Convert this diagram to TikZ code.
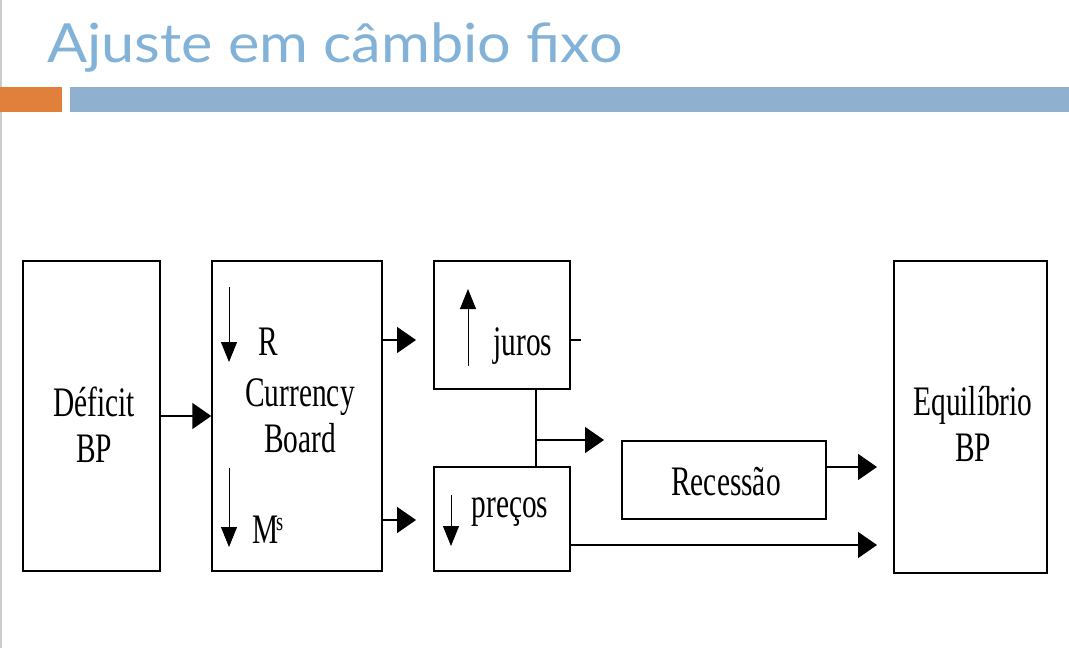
\documentclass[tikz,border=0pt]{standalone}
\usepackage{fontspec}
\setmainfont{Liberation Serif}
\newfontfamily\boxfont[FakeStretch=0.7]{Liberation Serif}
\newfontfamily\titlefont[FakeStretch=1.1]{Lato}
\usetikzlibrary{arrows.meta}
\definecolor{titleblue}{RGB}{130,178,216}
\definecolor{barblue}{RGB}{143,177,207}
\definecolor{barorange}{RGB}{224,128,58}
\tikzset{
  box/.style={draw, line width=1.4pt, minimum width=#1, inner sep=0pt},
  lbl/.style={font=\boxfont\fontsize{42}{46}\selectfont, inner sep=0pt, align=center},
  flow/.style={line width=1.6pt, -{Triangle[length=19pt,width=26pt]}},
  thin arrow/.style={line width=0.9pt, -{Triangle[length=20pt,width=16pt]}}
}
\begin{document}
\begin{tikzpicture}[x=1pt, y=-1pt]
  \useasboundingbox (0,0) rectangle (1069,648);
  \fill[white] (0,0) rectangle (1069,648);
  \draw[black!20, line width=1.5pt] (1,0) -- (1,648);
  \node[anchor=base west, inner sep=0pt, text=titleblue, font=\titlefont\fontsize{54}{60}\selectfont] (title) at (47,62) {Ajuste em câmbio fixo};
  \fill[barorange] (0,87) rectangle (62,112);
  \fill[barblue] (70,87) rectangle (1069,112);

  \node[box=137pt, minimum height=310pt] (deficit) at (91.5,416) {};
  \node[box=170pt, minimum height=310pt] (cb) at (297,416) {};
  \node[box=136pt, minimum height=128pt] (juros) at (502,325) {};
  \node[box=136pt, minimum height=104pt] (precos) at (502,519) {};
  \node[box=204pt, minimum height=78pt] (recessao) at (724,480) {};
  \node[box=153pt, minimum height=312pt] (equil) at (970.5,417) {};

  \node[lbl] (tdef) at (94,425) {Déficit\\BP};
  \node[lbl] (teq) at (973,424) {Equilíbrio\\BP};
  \node[lbl] (tcb) at (300,416) {Currency\\Board};
  \node[lbl] (tr) at (268,342) {R};
  \node[lbl] (tm) at (268,530) {M\kern-3pt\raisebox{13pt}{\fontsize{26}{26}\selectfont s}};
  \node[lbl] (tj) at (523,346) {juros};
  \node[lbl] (tp) at (510,512) {preços};
  \node[lbl] (trec) at (726,482) {Recessão};

  \draw[thin arrow] (229,287) -- (229,362);
  \draw[thin arrow] (229,468) -- (229,547);
  \draw[thin arrow] (468,366) -- (468,289);
  \draw[thin arrow] (451,495) -- (451,546);

  \coordinate (toj) at (416,340);
  \coordinate (top) at (416,520);
  \coordinate (mid) at (536,440);
  \coordinate (torec) at (604,440);
  \coordinate (toeq1) at (877,467);
  \coordinate (toeq2) at (877,545);
  \draw[flow] (deficit.east) -- (cb.west);
  \draw[flow] (cb.east |- toj) -- (toj);
  \draw[flow] (cb.east |- top) -- (top);
  \draw[line width=1.2pt] (juros.south -| mid) -- (precos.north -| mid);
  \draw[flow] (mid) -- (torec);
  \draw[line width=1.4pt] (juros.east |- toj) -- ++(10,0);
  \draw[flow] (recessao.east |- toeq1) -- (toeq1);
  \draw[flow] (precos.east |- toeq2) -- (toeq2);
\end{tikzpicture}
\end{document}
